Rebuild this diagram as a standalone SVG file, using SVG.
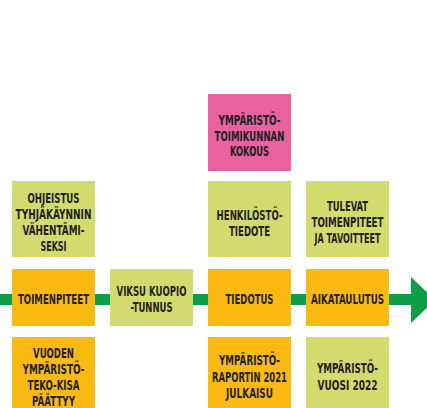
<svg xmlns="http://www.w3.org/2000/svg" width="427" height="408" viewBox="0 0 427 408">
<style>
.o{fill:#FBBA12}
.g{fill:#D2DC6E}
.p{fill:#E8629F}
text{font-family:"DejaVu Sans Condensed","DejaVu Sans","Liberation Sans",sans-serif;font-weight:bold;font-stretch:condensed;font-size:14px;fill:#231F20;text-anchor:middle}
</style>
<rect width="427" height="408" fill="#FFFFFF"/>
<g id="connectors">
<rect x="0" y="294" width="412" height="11" fill="#0E9E48"/>
<polygon points="411,277 435,300 411,323" fill="#0E9E48"/>
</g>
<g id="n-kokous">
<rect class="p" x="208" y="94" width="83" height="77"/>
<text x="249.5" y="125" textLength="62" lengthAdjust="spacingAndGlyphs">YMPÄRISTÖ-</text>
<text x="249.5" y="140.5" textLength="70" lengthAdjust="spacingAndGlyphs">TOIMIKUNNAN</text>
<text x="249.5" y="156" textLength="39" lengthAdjust="spacingAndGlyphs">KOKOUS</text>
</g>
<g id="n-ohjeistus">
<rect class="g" x="12" y="181" width="83" height="76"/>
<text x="53.5" y="203" textLength="52" lengthAdjust="spacingAndGlyphs">OHJEISTUS</text>
<text x="53.5" y="218.5" textLength="76" lengthAdjust="spacingAndGlyphs">TYHJÄKÄYNNIN</text>
<text x="53.5" y="234.5" textLength="62" lengthAdjust="spacingAndGlyphs">VÄHENTÄMI-</text>
<text x="53.5" y="251" textLength="26" lengthAdjust="spacingAndGlyphs">SEKSI</text>
</g>
<g id="n-henkilosto">
<rect class="g" x="208" y="181" width="83" height="76"/>
<text x="249.5" y="220" textLength="66" lengthAdjust="spacingAndGlyphs">HENKILÖSTÖ-</text>
<text x="249.5" y="235.5" textLength="41" lengthAdjust="spacingAndGlyphs">TIEDOTE</text>
</g>
<g id="n-tulevat">
<rect class="g" x="306" y="181" width="83" height="76"/>
<text x="347.5" y="211" textLength="41" lengthAdjust="spacingAndGlyphs">TULEVAT</text>
<text x="347.5" y="227" textLength="72" lengthAdjust="spacingAndGlyphs">TOIMENPITEET</text>
<text x="347.5" y="242.5" textLength="66" lengthAdjust="spacingAndGlyphs">JA TAVOITTEET</text>
</g>
<g id="n-toimenpiteet">
<rect class="o" x="12" y="269" width="83" height="57"/>
<text x="53.5" y="304" textLength="71" lengthAdjust="spacingAndGlyphs">TOIMENPITEET</text>
</g>
<g id="n-viksu">
<rect class="g" x="110" y="269" width="83" height="57"/>
<text x="151.5" y="296" textLength="70" lengthAdjust="spacingAndGlyphs">VIKSU KUOPIO</text>
<text x="151.5" y="312" textLength="42" lengthAdjust="spacingAndGlyphs">-TUNNUS</text>
</g>
<g id="n-tiedotus">
<rect class="o" x="208" y="269" width="83" height="57"/>
<text x="249.5" y="304" textLength="48" lengthAdjust="spacingAndGlyphs">TIEDOTUS</text>
</g>
<g id="n-aikataulutus">
<rect class="o" x="306" y="269" width="83" height="57"/>
<text x="347.5" y="304" textLength="73" lengthAdjust="spacingAndGlyphs">AIKATAULUTUS</text>
</g>
<g id="n-kisa">
<rect class="o" x="12" y="337" width="83" height="71"/>
<text x="53.5" y="358" textLength="41" lengthAdjust="spacingAndGlyphs">VUODEN</text>
<text x="53.5" y="374" textLength="62" lengthAdjust="spacingAndGlyphs">YMPÄRISTÖ-</text>
<text x="53.5" y="390" textLength="52" lengthAdjust="spacingAndGlyphs">TEKO-KISA</text>
<text x="53.5" y="406" textLength="43" lengthAdjust="spacingAndGlyphs">PÄÄTTYY</text>
</g>
<g id="n-raportti">
<rect class="o" x="208" y="337" width="83" height="71"/>
<text x="249.5" y="365" textLength="61" lengthAdjust="spacingAndGlyphs">YMPÄRISTÖ-</text>
<text x="249.5" y="382" textLength="75" lengthAdjust="spacingAndGlyphs">RAPORTIN 2021</text>
<text x="249.5" y="398" textLength="47" lengthAdjust="spacingAndGlyphs">JULKAISU</text>
</g>
<g id="n-vuosi">
<rect class="g" x="306" y="337" width="83" height="71"/>
<text x="347.5" y="373" textLength="61" lengthAdjust="spacingAndGlyphs">YMPÄRISTÖ-</text>
<text x="347.5" y="390" textLength="60" lengthAdjust="spacingAndGlyphs">VUOSI 2022</text>
</g>
</svg>
